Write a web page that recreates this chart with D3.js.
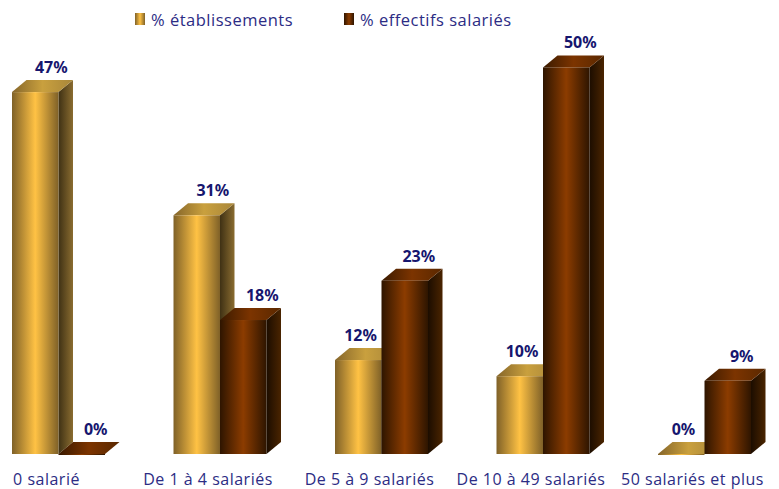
<!DOCTYPE html>
<html>
<head>
<meta charset="utf-8">
<title>Établissements et effectifs salariés</title>
<style>
html, body { margin: 0; padding: 0; background: #fff; }
svg { display: block; }
.cat text { font: 16px "Open Sans", sans-serif; letter-spacing: 0.5px; fill: #2c2c84; }
.legend text { font: 16.5px "Open Sans", sans-serif; letter-spacing: 0.5px; fill: #2c2c84; }
.val { font: bold 16px "Noto Sans", sans-serif; fill: #16166e; text-anchor: middle; }
</style>
<script src="https://d3js.org/d3.v7.min.js"></script>
</head>
<body>
<svg width="779" height="489"></svg>
<script>
var categories = ["0 salarié", "De 1 à 4 salariés", "De 5 à 9 salariés", "De 10 à 49 salariés", "50 salariés et plus"];
var seriesNames = ["% établissements", "% effectifs salariés"];
var etablissements = [47, 31, 12.2, 10.1, 0];
var effectifs = [0, 17.4, 22.5, 50.2, 9.5];
// labels as printed on the chart (rounded, do not always follow the bar height)
var etablissementsLabels = ["47%", "31%", "12%", "10%", "0%"];
var effectifsLabels = ["0%", "18%", "23%", "50%", "9%"];

var svg = d3.select("svg"),
    baseline = 454,
    barW = 46.5,
    dx = 14.5,
    dy = 12;

var xScale = d3.scalePoint().domain(categories).range([46, 692]);
var yScale = d3.scaleLinear().domain([0, 50]).range([baseline, baseline - 385]);

var palette = [
    {front: ["#7f6128", "#ffc244", "#7f6128"], top: ["#86662a", "#c9a03e", "#a8863a"], side: ["#3f3114", "#8a6c30"]},
    {front: ["#2e1500", "#8c3c00", "#2e1500"], top: ["#3a1a00", "#7c3400", "#5a2800"], side: ["#1c0d00", "#4a2400"]}
];

var defs = svg.append("defs");
function gradient(id, stops) {
    var g = defs.append("linearGradient").attr("id", id);
    stops.forEach(function(c, i) {
        g.append("stop").attr("offset", i / (stops.length - 1)).attr("stop-color", c);
    });
}
palette.forEach(function(p, i) {
    gradient("front" + i, p.front);
    gradient("top" + i, p.top);
    gradient("side" + i, p.side);
});

var bars = [];
categories.forEach(function(c, i) {
    bars.push({cat: c, s: 0, value: etablissements[i], other: effectifs[i], label: etablissementsLabels[i]});
    bars.push({cat: c, s: 1, value: effectifs[i], other: etablissements[i], label: effectifsLabels[i]});
});

function barX(d) { return xScale(d.cat) - 34 + d.s * barW; }

// gold labels step left when the brown bar beside them is taller
function labelX(d) {
    if (d.s == 0 && d.other > d.value) return barX(d) + barW - 21;
    if (d.s == 0) return barX(d) + barW / 2 + 16;
    if (d.value > 0 && d.value < d.other) return barX(d) + barW / 2 + 19;
    return barX(d) + barW / 2 + 14;
}

var g = svg.selectAll("g.bar").data(bars).enter().append("g").attr("class", "bar");

g.append("path")
    .attr("fill", d => `url(#side${d.s})`)
    .attr("d", function(d) {
        var x = barX(d) + barW, y = yScale(d.value);
        return `M${x},${y}l${dx},${-dy}V${baseline - dy}l${-dx},${dy}Z`;
    });
g.append("path")
    .attr("fill", d => `url(#top${d.s})`)
    .attr("d", function(d) {
        var x = barX(d), y = yScale(d.value);
        return `M${x},${y}l${dx},${-dy}h${barW}l${-dx},${dy}Z`;
    });
g.append("rect")
    .attr("fill", d => `url(#front${d.s})`)
    .attr("x", barX)
    .attr("y", d => yScale(d.value))
    .attr("width", barW)
    .attr("height", d => Math.max(baseline - yScale(d.value), 1));

svg.selectAll("text.val").data(bars).enter().append("text")
    .attr("class", "val")
    .attr("x", labelX)
    .attr("y", d => yScale(d.value) - 19)
    .text(d => d.label);

svg.append("g")
    .attr("class", "cat")
    .attr("transform", "translate(0,471)")
    .call(d3.axisBottom(xScale).tickSize(0))
    .call(a => a.select(".domain").remove());

var legend = svg.selectAll("g.legend").data(seriesNames).enter().append("g")
    .attr("class", "legend")
    .attr("transform", (d, i) => `translate(${i ? 344 : 135},13)`);
legend.append("rect")
    .attr("width", 10).attr("height", 12)
    .attr("fill", (d, i) => `url(#front${i})`);
legend.append("text")
    .attr("x", 16).attr("y", 13)
    .text(d => d);
</script>
</body>
</html>
